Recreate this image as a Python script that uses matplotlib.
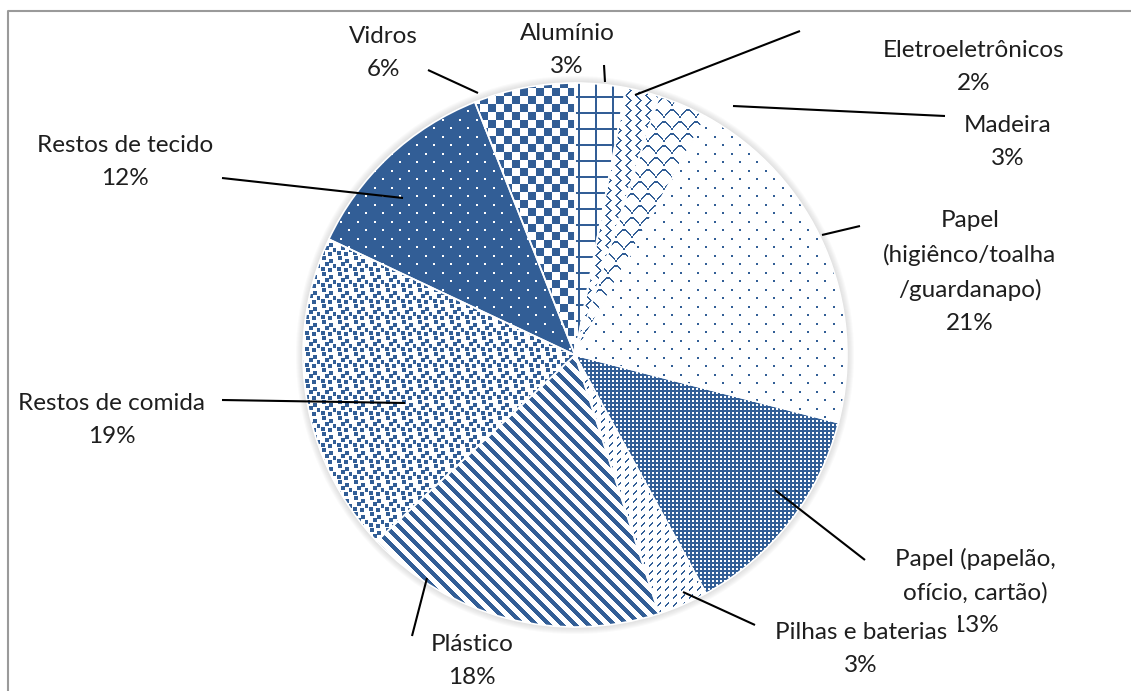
import numpy as np
import matplotlib
matplotlib.use("Agg")
import matplotlib.pyplot as plt
from matplotlib.patches import Circle

W, H = 1131, 691
BLUE = np.array([0x32, 0x5E, 0x96]) / 255.0

# waste composition (%)
categories = ["Alumínio", "Eletroeletrônicos", "Madeira",
              "Papel\n(higiênco/toalha\n/guardanapo)",
              "Papel (papelão,\nofício, cartão)", "Pilhas e baterias",
              "Plástico", "Restos de comida", "Restos de tecido", "Vidros"]
percent = [3, 2, 3, 21, 13, 3, 18, 19, 12, 6]

# label centre and leader line (pixel coords, y measured from the top)
label_pos = [(567, 50), (974, 67), (1008, 142), (970, 272), (975, 592),
             (861, 649), (472, 661), (112, 420), (125, 162), (383, 53)]
leaders = [((604, 65), (605, 82)), ((800, 31), (635, 95)),
           ((945, 116), (733, 106)), ((860, 226), (822, 235)),
           ((865, 560), (775, 490)), ((755, 625), (683, 592)),
           ((412, 636), (427, 578)), ((222, 400), (405, 403)),
           ((222, 178), (403, 198)), ((428, 70), (478, 93))]
pie_center = (575, 355)
pie_radius = 272


# ---- fill patterns (True = blue pixel) ----
def grid():
    t = np.zeros((16, 17), bool)
    t[:2, :] = True
    t[:, :2] = True
    return t


def weave():
    y, x = np.mgrid[0:10, 0:10]
    up = ((x + y) % 10 < 2) & (y < 5)
    down = ((x - y) % 10 < 2) & (y >= 5)
    return up | down


def scales():
    t = np.zeros((12, 16), bool)
    for x in range(16):
        y = int(round(1 + 8 * ((x - 7.5) / 8) ** 2))
        t[y:y + 2, x] = True
    return np.vstack([t, np.roll(t, 8, axis=1)])


def dots():
    t = np.zeros((17, 17), bool)
    t[0:2, 0:2] = True
    t[8:10, 8:10] = True
    return t


def fine_grid():
    t = np.ones((4, 4), bool)
    t[0:2, 0:2] = False
    return t


def dashes():
    t = np.zeros((8, 8), bool)
    for i in range(4):
        t[5 - i, 1 + i] = True
        t[6 - i, 1 + i] = True
    return t


def stripes():
    y, x = np.mgrid[0:13, 0:13]
    return (x - y) % 13 < 6


def confetti():
    t = np.zeros((16, 16), bool)
    for r, c in [(0, 2), (3, 9), (6, 5), (8, 13), (11, 1), (12, 8)]:
        t[r:r + 4, c:c + 4] = True
    return t


def checker():
    y, x = np.mgrid[0:16, 0:16]
    return ((x // 8 + y // 8) % 2) == 0


patterns = [grid(), weave(), scales(), dots(), fine_grid(), dashes(),
            stripes(), confetti(), ~dots(), checker()]


def texture(tile):
    reps = (H // tile.shape[0] + 1, W // tile.shape[1] + 1)
    mask = np.tile(tile, reps)[:H, :W]
    img = np.ones((H, W, 3))
    img[mask] = BLUE
    return img


fig = plt.figure(figsize=(W / 100, H / 100), dpi=100)
ax = fig.add_axes([0, 0, 1, 1])

cx, cy = pie_center[0], H - pie_center[1]

# soft shadow round the pie
for k in range(1, 8):
    ax.add_patch(Circle((cx, cy), pie_radius + k, facecolor="#7f7f7f",
                        alpha=0.035, lw=0, zorder=1))

wedges, _ = ax.pie(percent, startangle=90, counterclock=False,
                   center=(cx, cy), radius=pie_radius,
                   colors=["none"] * len(percent),
                   wedgeprops=dict(edgecolor="white", linewidth=1.2, zorder=3))

for w, pat in zip(wedges, patterns):
    im = ax.imshow(texture(pat), extent=(0, W, 0, H), origin="upper",
                   interpolation="nearest", zorder=2)
    im.set_clip_path(w)

for (p0, p1) in leaders:
    ax.plot([p0[0], p1[0]], [H - p0[1], H - p1[1]], color="black",
            lw=1.5, zorder=4, solid_capstyle="butt")

font = dict(family="Lato", fontsize=17.5, color="#1e1e1e")
for i, (name, v) in enumerate(zip(categories, percent)):
    x, y = label_pos[i]
    box = None
    if name.startswith("Pilhas"):
        # this label sits on top of the tail of its neighbour
        box = dict(facecolor="white", edgecolor="none", pad=8)
    ax.text(x, H - y, f"{name}\n{v}%", ha="center", va="center",
            linespacing=1.7, zorder=6 if box else 5, bbox=box, **font)

# chart area border (top and left edges)
ax.plot([8, 8, W], [0, H - 11, H - 11], color="#9a9a9a", lw=1.5,
        zorder=7, clip_on=False)

ax.set_xlim(0, W)
ax.set_ylim(0, H)
ax.set_aspect("equal")
ax.axis("off")

fig.savefig("out.png", dpi=100)
